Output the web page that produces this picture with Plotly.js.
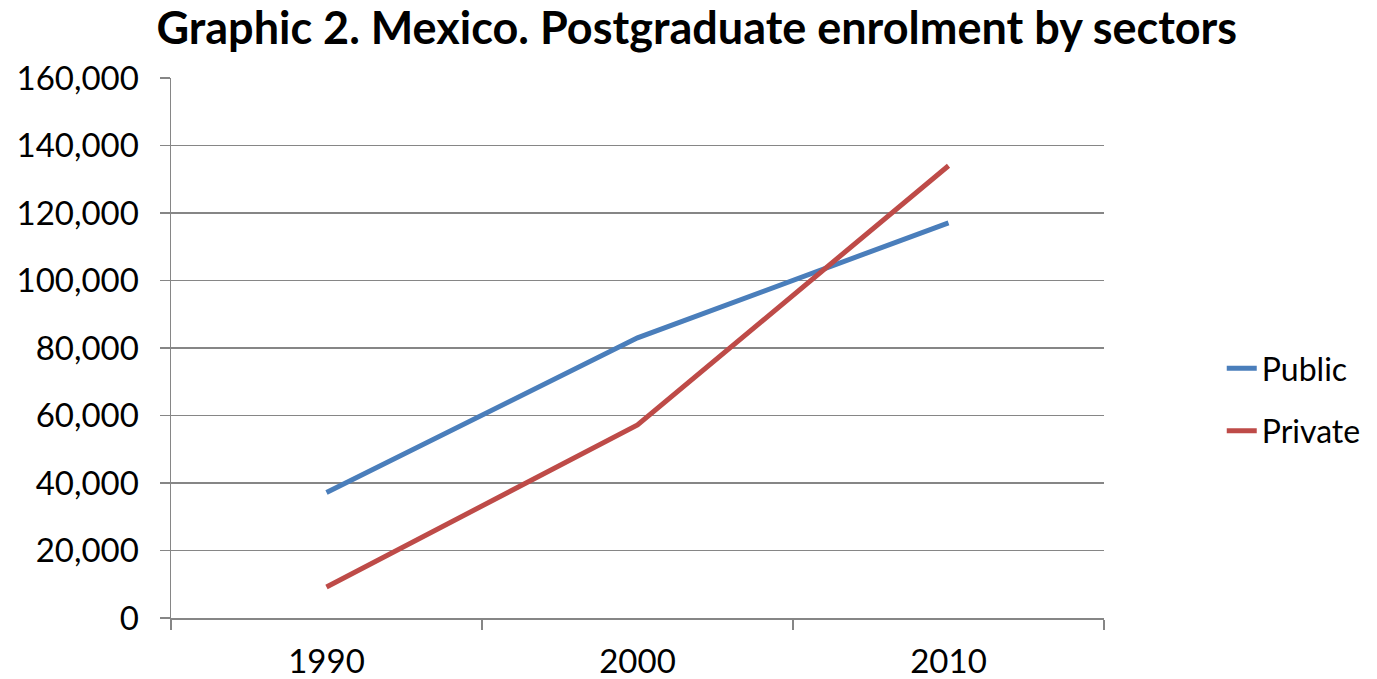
<!DOCTYPE html>
<html>
<head>
<meta charset="utf-8">
<script src="https://cdn.plot.ly/plotly-3.0.1.min.js"></script>
<style>html,body{margin:0;padding:0;background:#fff;}#chart{width:1377px;height:679px;}</style>
</head>
<body>
<div id="chart"></div>
<script>
const years = ["1990", "2000", "2010"];
const publicEnrol = [37200, 83000, 117100];
const privateEnrol = [9200, 57200, 134000];
const yTicks = [0, 20000, 40000, 60000, 80000, 100000, 120000, 140000, 160000];
const yTickText = ["0", "20,000", "40,000", "60,000", "80,000", "100,000", "120,000", "140,000", "160,000"];

const font = "Lato, 'Open Sans', sans-serif";
const traces = [
  {x: years, y: publicEnrol, name: "Public", type: "scatter", mode: "lines",
   line: {color: "#4A7EBB", width: 5}, legendgroup: "a"},
  {x: years, y: privateEnrol, name: "Private", type: "scatter", mode: "lines",
   line: {color: "#BE4B48", width: 5}, legendgroup: "b"}
];
const layout = {
  width: 1377, height: 679,
  margin: {l: 171, r: 272, t: 78, b: 61},
  paper_bgcolor: "#fff", plot_bgcolor: "#fff",
  font: {family: font, size: 33, color: "#000"},
  title: {text: "<b>Graphic 2. Mexico. Postgraduate enrolment by sectors</b>",
          font: {family: font, size: 45, color: "#000"},
          x: 0.506, xanchor: "center", y: 0.982, yanchor: "top"},
  xaxis: {type: "category", range: [-0.5, 2.5], tickson: "boundaries",
          ticks: "outside", ticklen: 10, tickwidth: 1.5, tickcolor: "#868686",
          showline: true, linecolor: "#868686", linewidth: 1.5,
          showgrid: false, zeroline: false, ticklabelstandoff: 14,
          tickfont: {family: font, size: 33}},
  yaxis: {range: [0, 160000], tickvals: yTicks, ticktext: yTickText,
          ticks: "outside", ticklen: 10, tickwidth: 1.5, tickcolor: "#868686",
          showline: true, linecolor: "#868686", linewidth: 1.5,
          showgrid: true, gridcolor: "#868686", gridwidth: 1.5,
          zeroline: false, ticklabelstandoff: 14, tickfont: {family: font, size: 33}},
  showlegend: true,
  legend: {x: 1.125, xanchor: "left", y: 0.404, yanchor: "middle",
           font: {family: font, size: 32}, traceorder: "grouped",
           tracegroupgap: 18, bgcolor: "rgba(0,0,0,0)", borderwidth: 0}
};
Plotly.newPlot("chart", traces, layout, {displayModeBar: false, staticPlot: true});
</script>
</body>
</html>
